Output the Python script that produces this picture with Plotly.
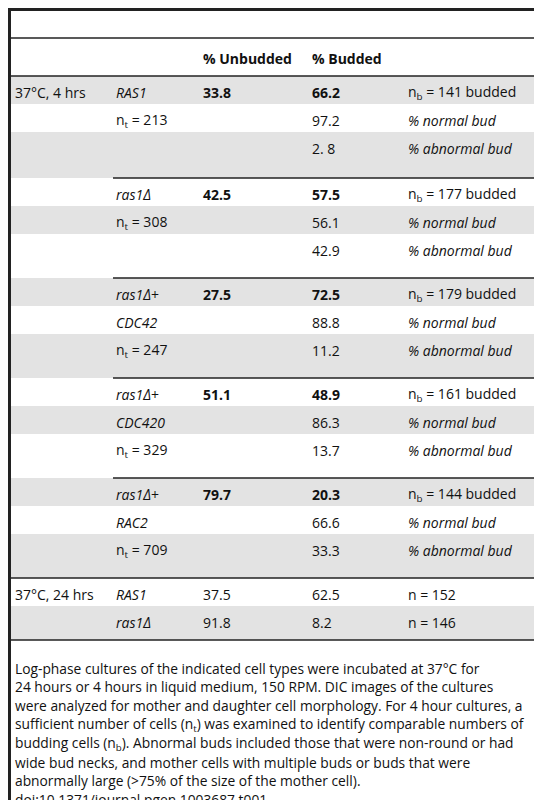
import plotly.graph_objects as go

# table content, one entry per row
conditions = ["37°C, 4 hrs", "", "", "", "", "", "", "", "", "", "", "", "", "", "",
              "37°C, 24 hrs", ""]
strains = ["<i>RAS1</i>", "n<sub>t</sub> = 213", "",
           "<i>ras1Δ</i>", "n<sub>t</sub> = 308", "",
           "<i>ras1Δ</i>+", "<i>CDC42</i>", "n<sub>t</sub> = 247",
           "<i>ras1Δ</i>+", "<i>CDC420</i>", "n<sub>t</sub> = 329",
           "<i>ras1Δ</i>+", "<i>RAC2</i>", "n<sub>t</sub> = 709",
           "<i>RAS1</i>", "<i>ras1Δ</i>"]
unbudded = ["<b>33.8</b>", "", "", "<b>42.5</b>", "", "", "<b>27.5</b>", "", "",
            "<b>51.1</b>", "", "", "<b>79.7</b>", "", "", "37.5", "91.8"]
budded = ["<b>66.2</b>", "97.2", "2. 8", "<b>57.5</b>", "56.1", "42.9",
          "<b>72.5</b>", "88.8", "11.2", "<b>48.9</b>", "86.3", "13.7",
          "<b>20.3</b>", "66.6", "33.3", "62.5", "8.2"]
notes = ["n<sub>b</sub> = 141 budded", "<i>% normal bud</i>", "<i>% abnormal bud</i>",
         "n<sub>b</sub> = 177 budded", "<i>% normal bud</i>", "<i>% abnormal bud</i>",
         "n<sub>b</sub> = 179 budded", "<i>% normal bud</i>", "<i>% abnormal bud</i>",
         "n<sub>b</sub> = 161 budded", "<i>% normal bud</i>", "<i>% abnormal bud</i>",
         "n<sub>b</sub> = 144 budded", "<i>% normal bud</i>", "<i>% abnormal bud</i>",
         "n = 152", "n = 146"]
headers = ["", "", "<b>% Unbudded</b>", "<b>% Budded</b>", ""]
group_sizes = [3, 3, 3, 3, 3, 2]

caption = [
    "Log-phase cultures of the indicated cell types were incubated at 37°C for",
    "24 hours or 4 hours in liquid medium, 150 RPM. DIC images of the cultures",
    "were analyzed for mother and daughter cell morphology. For 4 hour cultures, a",
    "sufficient number of cells (n<sub>t</sub>) was examined to identify comparable numbers of",
    "budding cells (n<sub>b</sub>). Abnormal buds included those that were non-round or had",
    "wide bud necks, and mother cells with multiple buds or buds that were",
    "abnormally large (>75% of the size of the mother cell).",
    "doi:10.1371/journal.pgen.1003687.t001",
]

W, H = 542, 800
col_x = [5, 106, 193, 302, 398]
row_h = 28
font = dict(family="Open Sans", size=14, color="#111")

fig = go.Figure()
shapes, annots = [], []

# row positions
tops, bots, group_starts = [], [], []
y = 68
for gi, n in enumerate(group_sizes):
    group_starts.append(y)
    for k in range(n):
        tops.append(y)
        h = row_h
        if k == n - 1 and gi < len(group_sizes) - 1:
            h = row_h + (18 if gi == 0 else 16)
        y += h
        bots.append(y)
table_bottom = y + 6
bots[-1] = table_bottom

for i, (t, b) in enumerate(zip(tops, bots)):
    if i % 2 == 0:
        shapes.append(dict(type="rect", x0=0, x1=W, y0=t, y1=b,
                           fillcolor="#e3e3e3", line_width=0, layer="below"))
    cells = [conditions[i], strains[i], unbudded[i], budded[i], notes[i]]
    for cx, txt in zip(col_x, cells):
        if txt:
            annots.append(dict(x=cx, y=t + 16, text=txt, showarrow=False,
                               xanchor="left", yanchor="middle", font=font))

for cx, txt in zip(col_x, headers):
    if txt:
        annots.append(dict(x=cx, y=50, text=txt, showarrow=False,
                           xanchor="left", yanchor="middle", font=font))

# rules
def hline(yy, x0=0, w=1.3):
    shapes.append(dict(type="line", x0=x0, x1=W, y0=yy, y1=yy,
                       line=dict(color="#222", width=w)))

hline(1.5, w=3)
hline(30)
hline(68)
for gi, gs in enumerate(group_starts[1:], start=1):
    hline(gs, x0=0 if gi == len(group_starts) - 1 else 105)
hline(table_bottom)
shapes.append(dict(type="line", x0=1.5, x1=1.5, y0=0, y1=H,
                   line=dict(color="#222", width=3)))

for j, line in enumerate(caption):
    annots.append(dict(x=5, y=table_bottom + 28 + j * 18.8, text=line, showarrow=False,
                       xanchor="left", yanchor="middle",
                       font=dict(family="Open Sans", size=13.8, color="#111")))

fig.update_layout(
    width=W, height=H, margin=dict(l=0, r=0, t=0, b=0),
    paper_bgcolor="white", plot_bgcolor="white",
    xaxis=dict(range=[0, W], visible=False, fixedrange=True),
    yaxis=dict(range=[H, 0], visible=False, fixedrange=True),
    shapes=shapes, annotations=annots, showlegend=False,
)
fig.write_html("out.html")
